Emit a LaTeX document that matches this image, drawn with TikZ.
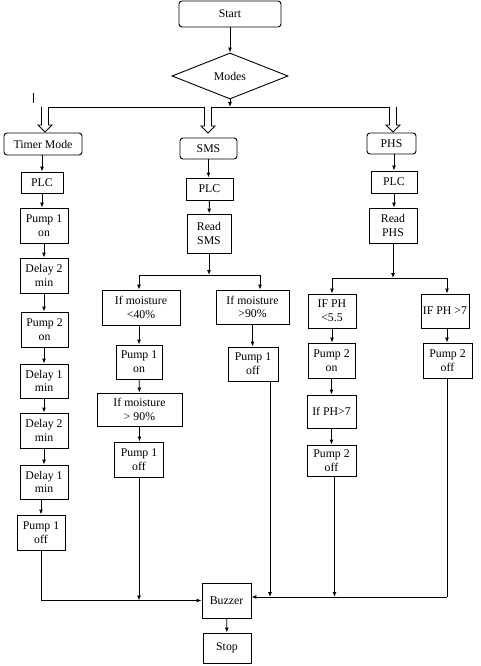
\documentclass[tikz,border=0pt]{standalone}
\usepackage{fontspec}
\setmainfont{Liberation Serif}
\usetikzlibrary{shapes.geometric,arrows.meta,calc}
\begin{document}
\begin{tikzpicture}[x=1pt,y=-1pt,
  box/.style={draw,line width=0.9pt,inner sep=0pt,align=center,font=\fontsize{11.8}{13.8}\selectfont},
  rbox/.style={box,rounded corners=3pt},
  wh/.style 2 args={minimum width=#1pt,minimum height=#2pt},
  arr/.style={line width=0.9pt,-{Latex[length=5pt,width=4pt]}},
  ln/.style={line width=0.9pt},
  harrow/.style={line width=0.9pt,fill=white}]
\useasboundingbox (0,0) rectangle (480,666);

% top
\node[rbox,wh={102}{26}] (start) at (230,14) {Start};
\node[box,shape=diamond,wh={116}{46}] (modes) at (230,76) {Modes};
\coordinate (barL) at (42,107);
\coordinate (barR) at (397,107);
\coordinate (barM) at (230,107);

% modes
\node[rbox,wh={78}{22}] (tm) at (43,144) {Timer Mode};
\node[rbox,wh={57}{21}] (sms) at (208.5,148.5) {SMS};
\node[rbox,wh={49}{21}] (phs) at (391.5,143.5) {PHS};

% left column
\node[box,wh={42}{21}] (plc1) at (42,182.5) {PLC};
\node[box,wh={48}{35}] (p1on) at (44,225.5) {Pump 1\\on};
\node[box,wh={48}{35}] (d2a) at (44,275.5) {Delay 2\\min};
\node[box,wh={47}{35}] (p2on) at (44.5,329.5) {Pump 2\\on};
\node[box,wh={48}{34}] (d1a) at (44,381) {Delay 1\\min};
\node[box,wh={48}{35}] (d2b) at (44,430.5) {Delay 2\\min};
\node[box,wh={48}{34}] (d1b) at (44,482) {Delay 1\\min};
\node[box,wh={48}{35}] (p1off) at (41,532.5) {Pump 1\\off};

% middle column
\node[box,wh={47}{22}] (plc2) at (209.5,189) {PLC};
\node[box,wh={44}{39}] (rsms) at (209,233.5) {Read\\SMS};
\coordinate (sJ) at (209,275);
\coordinate (sL) at (139,275);
\coordinate (sR) at (260,275);
\node[box,wh={78}{35}] (m40) at (141,307.5) {If moisture\\<40\%};
\node[box,wh={73}{34}] (m90) at (252.5,307) {If moisture\\>90\%};
\node[box,wh={46}{34}] (p1onm) at (139,362) {Pump 1\\on};
\node[box,wh={85}{33}] (m90b) at (139.5,409.5) {If moisture\\> 90\%};
\node[box,wh={49}{35}] (p1offm) at (139,459.5) {Pump 1\\off};
\node[box,wh={50}{34}] (p1offr) at (253,364) {Pump 1\\off};

% right column
\node[box,wh={46}{22}] (plc3) at (394,182) {PLC};
\node[box,wh={48}{35}] (rphs) at (393,225.5) {Read\\PHS};
\coordinate (pJ) at (393,278);
\coordinate (pL) at (332,278);
\coordinate (pR) at (447,278);
\node[box,wh={48}{34}] (ph55) at (332,311) {IF PH\\<5.5};
\node[box,wh={48}{34}] (ph7) at (445,311) {IF PH >7};
\node[box,wh={47}{35}] (p2onr) at (331.5,360.5) {Pump 2\\on};
\node[box,wh={49}{35}] (p2offr) at (447.5,360.5) {Pump 2\\off};
\node[box,wh={49}{33}] (ph7b) at (331.5,411.5) {If PH>7};
\node[box,wh={49}{31}] (p2offb) at (331.5,460.5) {Pump 2\\off};

% bottom
\node[box,wh={49}{35}] (buzzer) at (226.5,600.5) {Buzzer};
\node[box,wh={48}{30}] (stop) at (227,648) {Stop};
\coordinate (rJ) at (447,597);
\coordinate (f1) at ($(p1offr.south)+(17,0)$);
\coordinate (f2) at ($(p2offb.south)+(3,0)$);

% stray mark
\draw[line width=0.8pt] (33,93) -- (33,103);

% top connectors
\draw[arr] (start) -- (modes.north);
\draw[arr] (modes.south) -- (barM);
\draw[ln] (barL) -- (barR);

% hollow arrows
\foreach \xx/\yy in {45/132,208/133,393/132}{
  \draw[harrow] (\xx-3.5,107) -- (\xx-3.5,\yy-7) -- (\xx-7,\yy-7) -- (\xx,\yy)
    -- (\xx+7,\yy-7) -- (\xx+3.5,\yy-7) -- (\xx+3.5,107);
}

% left column connectors
\draw[arr] (tm.south -| plc1) -- (plc1.north);
\draw[arr] (plc1.south) -- (plc1.south |- p1on.north);
\draw[arr] (p1on) -- (d2a);
\draw[arr] (d2a) -- (d2a |- p2on.north);
\draw[arr] (p2on.south -| d1a) -- (d1a);
\draw[arr] (d1a) -- (d2b);
\draw[arr] (d2b) -- (d1b);
\draw[arr] (d1b.south -| p1off) -- (p1off);

% middle connectors
\draw[arr] (sms.south) -- (sms.south |- plc2.north);
\draw[arr] (plc2) -- (rsms);
\draw[arr] (rsms.south) -- (sJ);
\draw[ln] (sL) -- (sR);
\draw[arr] (sL) -- (sL |- m40.north);
\draw[arr] (sR) -- (sR |- m90.north);
\draw[arr] (m40.south -| p1onm) -- (p1onm);
\draw[arr] (p1onm) -- (m90b);
\draw[arr] (m90b) -- (m90b |- p1offm.north);
\draw[arr] (m90) -- (m90 |- p1offr.north);

% right connectors
\draw[arr] (phs.south -| plc3) -- (plc3);
\draw[arr] (plc3) -- (plc3 |- rphs.north);
\draw[arr] (rphs.south) -- (pJ);
\draw[ln] (pL) -- (pR);
\draw[arr] (pL) -- (pL |- ph55.north);
\draw[arr] (pR) -- (pR |- ph7.north);
\draw[arr] (ph55) -- (ph55 |- p2onr.north);
\draw[arr] (ph7.south -| pR) -- (pR |- p2offr.north);
\draw[arr] (p2onr) -- (ph7b);
\draw[arr] (ph7b) -- (p2offb);

% to buzzer
\draw[arr] (p1off.south) |- (buzzer.west);
\draw[arr] (p1offm.south) -- (p1offm.south |- buzzer.west);
\draw[ln] (p2offr.south -| rJ) -- (rJ);
\draw[arr] (rJ) -- (buzzer.east |- rJ);
\draw[arr] (f1) -- (f1 |- rJ);
\draw[arr] (f2) -- (f2 |- rJ);
\draw[arr] (buzzer) -- (stop);
\end{tikzpicture}
\end{document}
